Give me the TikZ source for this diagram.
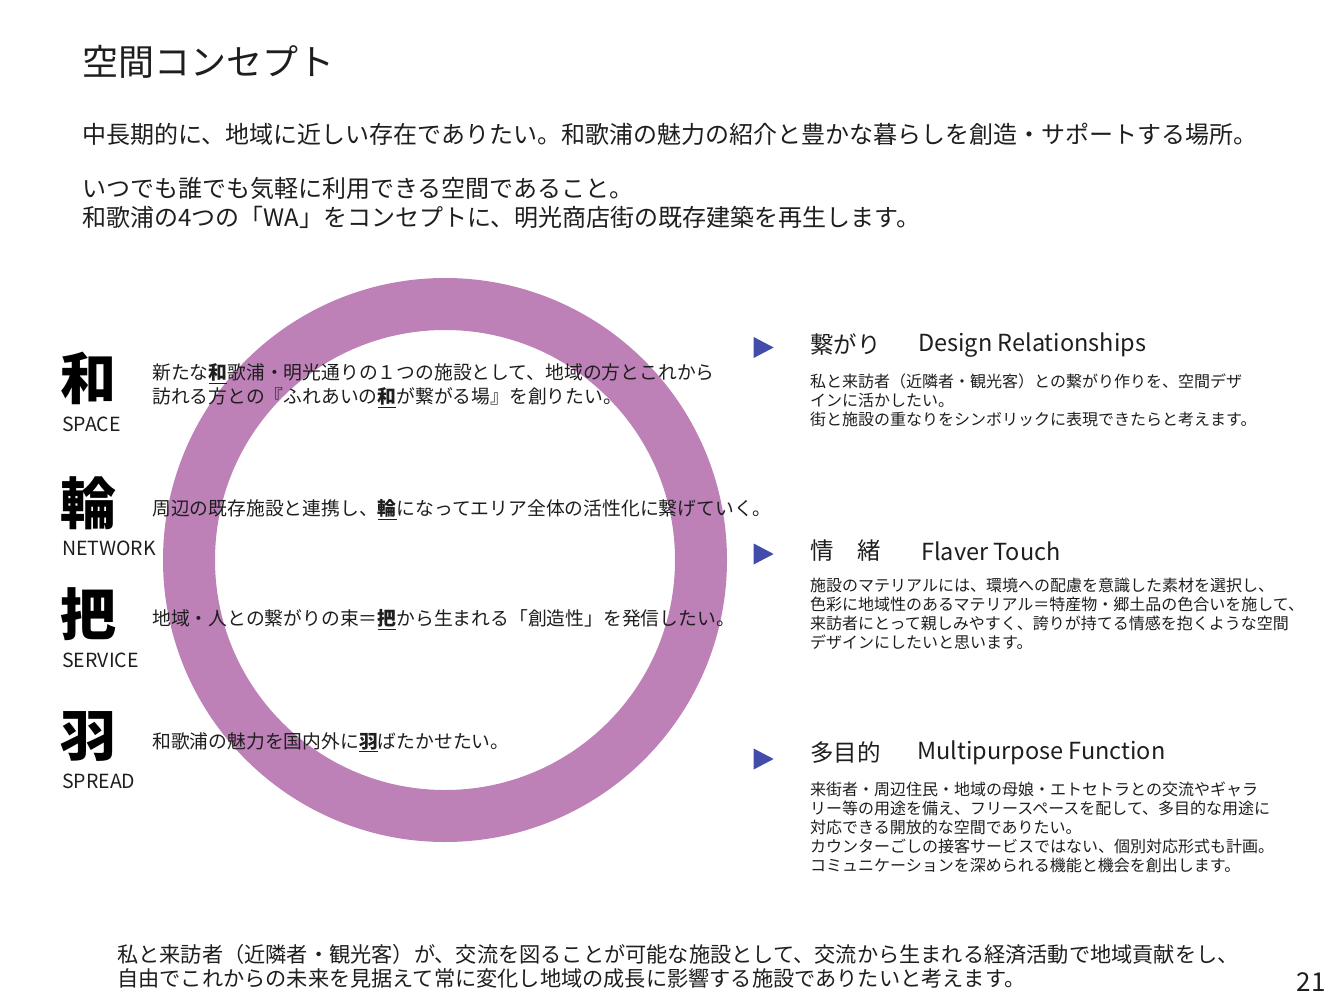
\documentclass[tikz,border=0pt]{standalone}
\usepackage{fontspec}
\setmainfont{Noto Sans CJK JP}
\usetikzlibrary{shapes.geometric}
\definecolor{ringc}{RGB}{189,129,184}
\definecolor{markc}{RGB}{66,76,170}
\definecolor{txt}{RGB}{30,30,30}
\begin{document}
\begin{tikzpicture}[x=1pt,y=-1pt,
  ring/.style={draw=ringc, line width=52pt},
  ttl/.style={anchor=west, inner sep=0, text=txt, font=\fontsize{36}{40}\selectfont},
  lead/.style={anchor=west, inner sep=0, text=txt, font=\fontsize{24}{29}\selectfont},
  bigk/.style={anchor=west, inner sep=0, text=black, font=\fontsize{56}{60}\selectfont\bfseries},
  en/.style={anchor=west, inner sep=0, text=txt, font=\fontsize{19.5}{22}\selectfont},
  desc/.style={anchor=north west, inner sep=0, text=txt, align=left, font=\fontsize{18.8}{24}\selectfont},
  head/.style={anchor=west, inner sep=0, text=txt, font=\fontsize{23.5}{28}\selectfont},
  body/.style={anchor=north west, inner sep=0, text=txt, align=left, font=\fontsize{16}{19}\selectfont},
  foot/.style={anchor=north west, inner sep=0, text=txt, align=left, font=\fontsize{21.2}{24}\selectfont},
  marker/.style={isosceles triangle, isosceles triangle stretches, fill=markc, draw=none, inner sep=0, minimum width=21pt, minimum height=20pt}
]
\useasboundingbox (0,0) rectangle (1344,1008);
% ring
\node[circle, ring, minimum size=512pt, inner sep=0] (ring) at (445,560) {};
% title and lead
\node[ttl] (title) at (82,62) {空間コンセプト};
\node[lead] (l1) at (82,134) {中長期的に、地域に近しい存在でありたい。和歌浦の魅力の紹介と豊かな暮らしを創造・サポートする場所。};
\node[lead] (l2) at (82,188) {いつでも誰でも気軽に利用できる空間であること。};
\node[lead] (l3) at (82,217) {和歌浦の4つの「WA」をコンセプトに、明光商店街の既存建築を再生します。};
% left column
\node[bigk] (k1) at (60,378) {和};
\node[en] (e1) at (62,424) {SPACE};
\node[desc] (d1) at (152,363.5) {新たな\underline{\textbf{和}}歌浦・明光通りの１つの施設として、地域の方とこれから\\訪れる方との『ふれあいの\underline{\textbf{和}}が繋がる場』を創りたい。};
\node[bigk] (k2) at (60,503) {輪};
\node[en] (e2) at (62,548) {NETWORK};
\node[desc] (d2) at (152,499.5) {周辺の既存施設と連携し、\underline{\textbf{輪}}になってエリア全体の活性化に繋げていく。};
\node[bigk] (k3) at (60,614) {把};
\node[en] (e3) at (62,660) {SERVICE};
\node[desc] (d3) at (152,609.5) {地域・人との繋がりの束＝\underline{\textbf{把}}から生まれる「創造性」を発信したい。};
\node[bigk] (k4) at (60,736) {羽};
\node[en] (e4) at (62,781) {SPREAD};
\node[desc] (d4) at (152,732.5) {和歌浦の魅力を国内外に\underline{\textbf{羽}}ばたかせたい。};
% right column
\node[marker] (m1) at (760,347.5) {};
\node[head] (h1) at (810,345) {繋がり};
\node[head] (h1e) at (918,345) {Design Relationships};
\node[body] (b1) at (810,374) {私と来訪者（近隣者・観光客）との繋がり作りを、空間デザ\\インに活かしたい。\\街と施設の重なりをシンボリックに表現できたらと考えます。};
\node[marker] (m2) at (760,554) {};
\node[head] (h2) at (810,551) {情　緒};
\node[head] (h2e) at (921,551) {Flaver Touch};
\node[body] (b2) at (810,578) {施設のマテリアルには、環境への配慮を意識した素材を選択し、\\色彩に地域性のあるマテリアル＝特産物・郷土品の色合いを施して、\\来訪者にとって親しみやすく、誇りが持てる情感を抱くような空間\\デザインにしたいと思います。};
\node[marker] (m3) at (760,759) {};
\node[head] (h3) at (810,753) {多目的};
\node[head] (h3e) at (917,753) {Multipurpose Function};
\node[body] (b3) at (810,782) {来街者・周辺住民・地域の母娘・エトセトラとの交流やギャラ\\リー等の用途を備え、フリースペースを配して、多目的な用途に\\対応できる開放的な空間でありたい。\\カウンターごしの接客サービスではない、個別対応形式も計画。\\コミュニケーションを深められる機能と機会を創出します。};
% footer
\node[foot] (f) at (117,944.5) {私と来訪者（近隣者・観光客）が、交流を図ることが可能な施設として、交流から生まれる経済活動で地域貢献をし、\\自由でこれからの未来を見据えて常に変化し地域の成長に影響する施設でありたいと考えます。};
\node[anchor=east, inner sep=0, text=txt, font=\fontsize{26}{28}\selectfont] (pg) at (1326,982) {21};
\end{tikzpicture}
\end{document}
